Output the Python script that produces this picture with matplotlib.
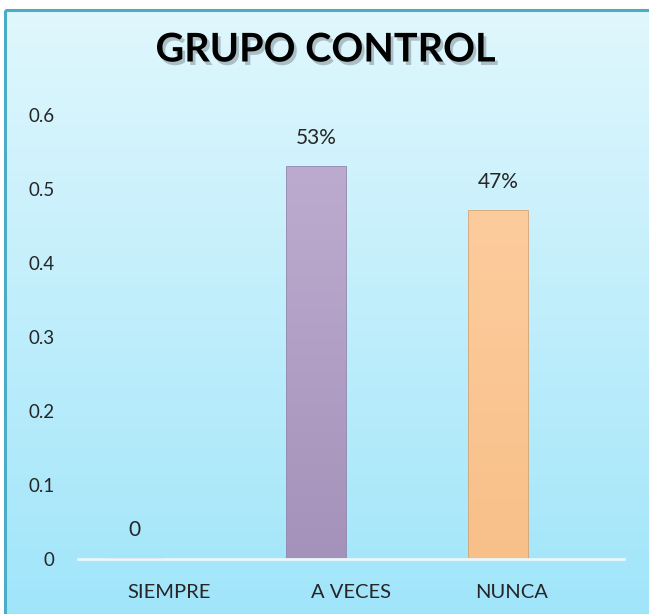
import numpy as np
import matplotlib.pyplot as plt
import matplotlib.patheffects as pe
from matplotlib.patches import Rectangle

categorias = ['SIEMPRE', 'A VECES', 'NUNCA']
valores = [0.0, 0.53, 0.47]
etiquetas = ['0', '53%', '47%']
colores_top = ['#bdabcf', '#bdabcf', '#fdcc9d']
colores_bot = ['#a592ba', '#a592ba', '#f8c089']
bordes = ['#8f7fa6', '#8f7fa6', '#d9a06a']
titulo = 'GRUPO CONTROL'

plt.rcParams['font.family'] = ['Lato', 'DejaVu Sans']

W, H = 649, 614
fig = plt.figure(figsize=(W / 100, H / 100), dpi=100)

# fondo degradado del area del grafico
bg = fig.add_axes([0, 0, 1, 1], zorder=0)
bg.axis('off')
top = np.array([224, 247, 253]) / 255
bot = np.array([160, 229, 250]) / 255
t = np.linspace(0, 1, 256)[:, None]
grad = (top[None, :] * (1 - t) + bot[None, :] * t)[:, None, :]
bg.imshow(grad, extent=[5, W + 5, H + 5, 10], aspect='auto', interpolation='bilinear')
bg.add_patch(Rectangle((5, 10), W + 10, H + 10, fill=False, edgecolor='#4bacc6', lw=2.2))
bg.set_xlim(0, W)
bg.set_ylim(H, 0)

# titulo con sombra
bg.text(326, 50, titulo, ha='center', va='center', fontsize=28.5, fontweight='bold',
        color='black',
        path_effects=[pe.withSimplePatchShadow(offset=(2, -2.5), shadow_rgbFace='#7a8a90',
                                               alpha=0.5)])

ax = fig.add_axes([78 / W, 1 - 559 / H, (624 - 78) / W, (559 - 115) / H], zorder=1)
ax.patch.set_alpha(0)
x = np.arange(len(categorias))
barras = ax.bar(x - 0.19, valores, width=0.32, color=colores_bot, edgecolor=bordes,
                linewidth=1.2, zorder=2)
for b, v, lab, c1, c2 in zip(barras, valores, etiquetas, colores_top, colores_bot):
    if v > 0:
        a = np.array(plt.matplotlib.colors.to_rgb(c1))
        z = np.array(plt.matplotlib.colors.to_rgb(c2))
        g = (a[None, :] * (1 - t) + z[None, :] * t)[:, None, :]
        im = ax.imshow(g, extent=[b.get_x(), b.get_x() + b.get_width(), 0, v],
                       aspect='auto', zorder=2.5, interpolation='bilinear')
        im.set_clip_path(b)
    ax.text(b.get_x() + b.get_width() / 2, v + 0.026, lab, ha='center', va='bottom',
            fontsize=15, color='#262626')

ax.set_xlim(-0.5, 2.5)
ax.set_ylim(0, 0.6)
ax.set_yticks([0, 0.1, 0.2, 0.3, 0.4, 0.5, 0.6])
ax.set_yticklabels(['0', '0.1', '0.2', '0.3', '0.4', '0.5', '0.6'])
ax.set_xticks([0, 1, 1.88])
ax.set_xticklabels(categorias)
ax.tick_params(axis='both', length=0, colors='#262626')
ax.tick_params(axis='y', pad=17, labelsize=13.5)
ax.tick_params(axis='x', pad=18, labelsize=14.5)
for s in ['top', 'right', 'left']:
    ax.spines[s].set_visible(False)
ax.spines['bottom'].set_color('#eaf7fb')
ax.spines['bottom'].set_linewidth(2)
ax.spines['bottom'].set_zorder(3)

fig.savefig('out.png', dpi=100)
